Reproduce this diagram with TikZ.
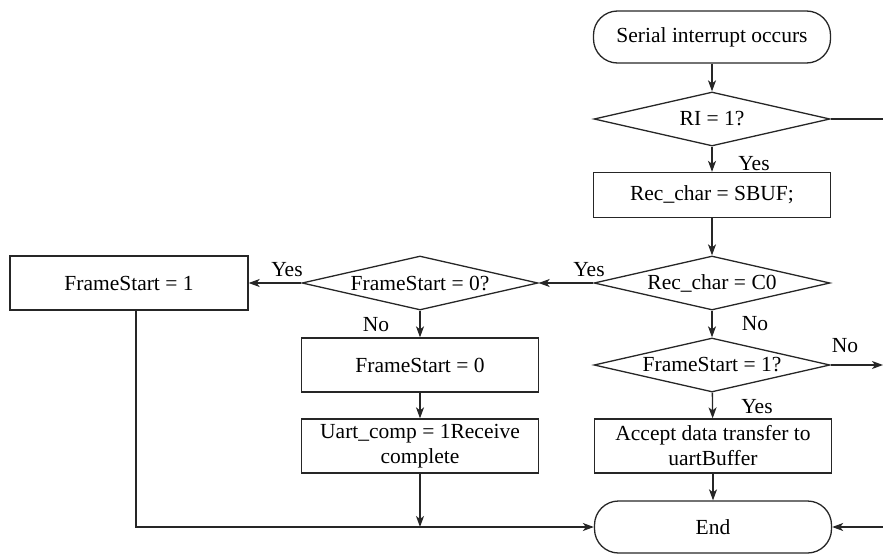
\documentclass[tikz,border=0pt]{standalone}
\usepackage{fontspec}
\setmainfont{Liberation Serif}
\usetikzlibrary{shapes.geometric,arrows.meta}
\begin{document}
\begin{tikzpicture}[x=1pt,y=-1pt,
  every node/.style={font=\fontsize{21.5}{25}\selectfont},
  flow/.style={line width=1.3pt, draw=black!85},
  proc/.style={flow, rectangle, minimum width=237pt, minimum height=54pt, inner sep=0pt, align=center},
  term/.style={proc, rounded corners=24pt, minimum height=52pt},
  dec/.style={flow, diamond, aspect=4.4, inner sep=0pt, minimum width=236pt, minimum height=54pt},
  arr/.style={flow, -{Stealth[length=11pt,width=8pt,inset=3pt]}},
  lbl/.style={inner sep=0pt}]
\useasboundingbox (0,0) rectangle (883,554);

% main column
\node[term] (start) at (712,37) {Serial interrupt occurs};
\node[dec]  (ri)    at (712,119) {RI = 1?};
\node[proc, minimum height=45pt] (sbuf) at (712,195) {Rec\_char = SBUF;};
\node[dec]  (c0)    at (712,283) {Rec\_char = C0};
\node[dec]  (fs1q)  at (712,365) {FrameStart = 1?};
\node[proc] (accept) at (713,446) {Accept data transfer to\\uartBuffer};
\node[term] (end)   at (713,527) {End};

% left branch
\node[dec]  (fs0q)  at (420,283) {FrameStart = 0?};
\node[proc, minimum width=238pt] (set1) at (129,283) {FrameStart = 1};
\node[proc] (set0)  at (420,365) {FrameStart = 0};
\node[proc] (uart)  at (420,446) {Uart\_comp = 1Receive\\complete};

% free ends at the right margin and on the bottom bus
\coordinate (riout)  at (883,119);
\coordinate (fs1out) at (883,365);
\coordinate (endin)  at (883,527);
\coordinate (bus)    at (420,527);
\coordinate (set1dn) at (136,310);
\coordinate (corner) at (136,527);

% connectors
\draw[arr] (start) -- (ri);
\draw[arr] (ri) -- (sbuf);
\draw[arr] (sbuf) -- (c0);
\draw[arr] (c0.west) -- (fs0q.east);
\draw[arr] (fs0q.west) -- (set1.east);
\draw[arr] (fs0q) -- (set0);
\draw[arr] (set0) -- (uart);
\draw[arr] (c0) -- (fs1q);
\draw[arr] (fs1q) -- (accept);
\draw[arr] (accept) -- (end);
\draw[flow] (ri.east) -- (riout);
\draw[arr] (fs1q.east) -- (fs1out);
\draw[arr] (endin) -- (end.east);
\draw[arr] (uart) -- (bus);
\draw[arr] (set1dn) -- (corner) -- (end.west);

% branch labels
\node[lbl] at (754,164) {Yes};
\node[lbl] at (589,270) {Yes};
\node[lbl] at (287,270) {Yes};
\node[lbl] at (376,325) {No};
\node[lbl] at (755,324) {No};
\node[lbl] at (845,346) {No};
\node[lbl] at (757,407) {Yes};
\end{tikzpicture}
\end{document}
